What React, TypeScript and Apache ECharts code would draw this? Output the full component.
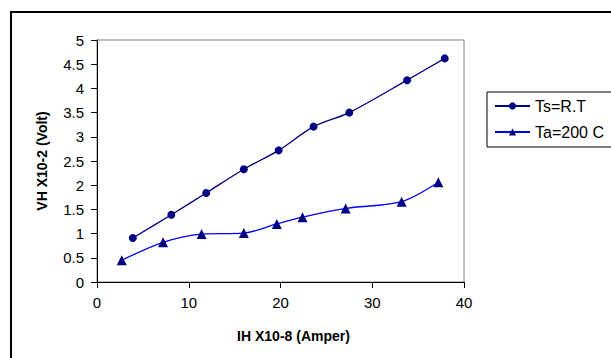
import React, { useEffect, useRef } from "react";
import * as echarts from "echarts";

const tsX = [3.9, 8.1, 11.9, 16.0, 19.8, 23.6, 27.5, 33.8, 37.9];
const tsY = [0.91, 1.39, 1.84, 2.33, 2.72, 3.21, 3.5, 4.17, 4.62];
const taX = [2.7, 7.2, 11.4, 16.0, 19.6, 22.4, 27.1, 33.2, 37.2];
const taY = [0.45, 0.82, 0.99, 1.01, 1.2, 1.34, 1.52, 1.66, 2.06];
const seriesNames = ["Ts=R.T", "Ta=200 C"];
const xTitle = "IH X10-8 (Amper)";
const yTitle = "VH X10-2 (Volt)";

const FONT = "Liberation Sans, Arial, sans-serif";

export default function App() {
  const ref = useRef<HTMLDivElement>(null);
  useEffect(() => {
    if (!ref.current) return;
    const chart = echarts.init(ref.current, null, { renderer: "svg" });
    const pair = (xs: number[], ys: number[]) => xs.map((x, i) => [x, ys[i]]);
    chart.setOption({
      animation: false,
      backgroundColor: "#ffffff",
      textStyle: { fontFamily: FONT },
      graphic: [
        {
          type: "rect",
          shape: { x: 11, y: 12, width: 700, height: 500 },
          style: { fill: "none", stroke: "#000", lineWidth: 2 },
          silent: true,
        },
      ],
      grid: {
        left: 97,
        top: 40,
        right: 147,
        bottom: 76,
        show: true,
        borderColor: "#808080",
        borderWidth: 1,
        backgroundColor: "transparent",
      },
      legend: {
        orient: "vertical",
        left: 487,
        top: 92,
        width: 124,
        padding: [6, 12, 7, 7],
        itemWidth: 35,
        itemHeight: 9,
        itemGap: 10,
        borderColor: "#000",
        borderWidth: 1,
        textStyle: { fontFamily: FONT, fontSize: 16, color: "#000" },
        data: seriesNames,
      },
      xAxis: {
        type: "value",
        min: 0,
        max: 40,
        interval: 10,
        name: xTitle,
        nameLocation: "middle",
        nameGap: 47,
        nameTextStyle: {
          fontFamily: FONT,
          fontSize: 14,
          fontWeight: "bold",
          color: "#000",
          padding: [0, 0, 0, 26],
        },
        axisLine: { show: true, lineStyle: { color: "#000", width: 1 } },
        axisTick: { show: true, inside: false, length: 6, lineStyle: { color: "#000" } },
        axisLabel: { fontFamily: FONT, fontSize: 15, color: "#000", margin: 13 },
        splitLine: { show: false },
      },
      yAxis: {
        type: "value",
        min: 0,
        max: 5,
        interval: 0.5,
        name: yTitle,
        nameLocation: "middle",
        nameRotate: 90,
        nameGap: 48,
        nameTextStyle: {
          fontFamily: FONT,
          fontSize: 14,
          fontWeight: "bold",
          color: "#000",
        },
        axisLine: { show: true, lineStyle: { color: "#000", width: 1 } },
        axisTick: { show: true, inside: false, length: 6, lineStyle: { color: "#000" } },
        axisLabel: { fontFamily: FONT, fontSize: 15, color: "#000", margin: 13 },
        splitLine: { show: false },
      },
      series: [
        {
          name: seriesNames[0],
          type: "line",
          data: pair(tsX, tsY),
          smooth: 0.3,
          symbol: "circle",
          symbolSize: 8,
          lineStyle: { color: "#000080", width: 1.3 },
          itemStyle: { color: "#000080" },
        },
        {
          name: seriesNames[1],
          type: "line",
          data: pair(taX, taY),
          smooth: 0.3,
          symbol: "triangle",
          symbolSize: 10,
          lineStyle: { color: "#0000ff", width: 1.3 },
          itemStyle: { color: "#000080" },
        },
      ],
    });
    return () => chart.dispose();
  }, []);
  return (
    <div
      ref={ref}
      style={{ position: "fixed", left: 0, top: 0, width: 611, height: 358, background: "#fff" }}
    />
  );
}
